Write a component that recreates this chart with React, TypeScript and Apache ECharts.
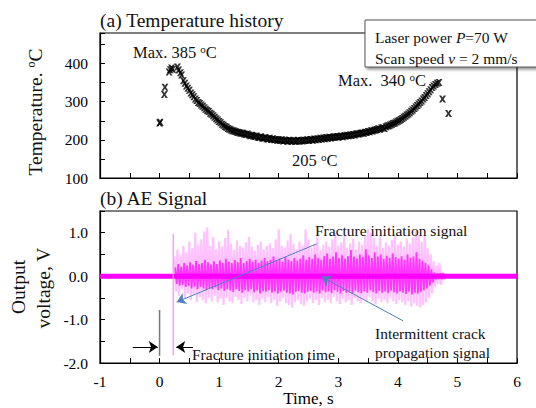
import React, { useEffect, useRef } from "react";
import * as echarts from "echarts";

const FONT = "'Liberation Serif', 'Times New Roman', serif";

// ---- axes ----
const timeMin = -1;
const timeMax = 6;
const tempMin = 100;
const tempMax = 480;
const voltMin = -2;
const voltMax = 1.5;

// ---- (a) temperature history ----
const tempEarlyTime = [0.0, 0.01, 0.08, 0.09, 0.16, 0.18, 0.2, 0.22, 0.3, 0.32, 0.35, 0.37];
const tempEarlyValue = [244, 246, 319, 338, 378, 384, 388, 385, 391, 383, 376, 370];
const tempStart = 0.4;
const tempStep = 0.025;
const tempValue = [
  355, 348, 341, 335, 330, 323, 318, 313,
  307, 303, 298, 295, 291, 288, 284, 280,
  277, 274, 270, 267, 263, 259, 255, 252,
  248, 245, 241, 238, 235, 233, 230, 228,
  226, 224, 223, 222, 220, 219, 218, 217,
  217, 215, 214, 215, 213, 211, 212, 210,
  209, 210, 207, 206, 208, 205, 204, 206,
  203, 202, 204, 201, 203, 200, 201, 199,
  200, 198, 200, 197, 199, 198, 196, 199,
  197, 196, 198, 196, 197, 199, 196, 198,
  197, 199, 198, 200, 198, 200, 201, 199,
  202, 200, 203, 201, 204, 202, 205, 203,
  206, 204, 207, 205, 206, 208, 207, 209,
  207, 209, 210, 208, 211, 210, 212, 211,
  213, 212, 214, 213, 215, 216, 215, 217,
  218, 217, 220, 219, 222, 221, 224, 223,
  225, 226, 227, 229, 228, 231, 232, 230,
  234, 236, 237, 239, 241, 243, 244, 247,
  249, 251, 253, 256, 259, 262, 265, 268,
  271, 275, 278, 282, 286, 290, 294, 298,
  302, 307, 311, 316, 321, 326, 331, 337,
  341,
];
const tempLateTime = [4.63, 4.66, 4.69, 4.75, 4.85];
const tempLateValue = [345, 348, 350, 307, 269];

// ---- (b) AE signal ----
const baselineTime = [-1, 6];
const baselineValue = [0, 0];
const spikeTime = [0.23, 0.23];
const spikeValue = [0.97, -1.82];
const aeStart = 0.25;
const aeStep = 0.05;
const lightHi = [
  0.45, 0.62, 0.5, 0.7, 0.55, 0.8, 0.65, 1.0, 0.72, 0.85,
  1.03, 1.12, 0.7, 0.9, 0.62, 0.8, 0.68, 0.88, 1.07, 0.75,
  0.6, 0.82, 0.7, 0.66, 0.78, 0.9, 0.68, 0.58, 0.72, 0.8,
  0.62, 0.7, 0.76, 0.65, 0.85, 1.08, 0.7, 0.66, 0.82, 0.97,
  0.74, 0.62, 0.8, 0.7, 1.08, 0.85, 0.66, 0.74, 0.9, 0.6,
  0.72, 0.8, 0.68, 0.85, 0.99, 0.7, 0.78, 0.93, 0.66, 0.75,
  0.86, 0.62, 0.8, 0.72, 0.95, 1.08, 1.0, 0.88, 0.7, 0.92,
  0.65, 0.78, 0.7, 0.84, 0.93, 0.72, 0.8, 0.68, 0.86, 0.75,
  0.9, 1.04, 0.95, 0.8, 0.93, 0.65, 0.5, 0.35, 0.25, 0.3,
  0.1,
];
const lightLo = [
  -0.35, -0.45, -0.3, -0.5, -0.4, -0.55, -0.42, -0.6, -0.48, -0.55,
  -0.62, -0.5, -0.58, -0.45, -0.6, -0.52, -0.66, -0.5, -0.58, -0.62,
  -0.48, -0.55, -0.64, -0.5, -0.58, -0.45, -0.6, -0.55, -0.66, -0.52,
  -0.6, -0.48, -0.62, -0.55, -0.68, -0.58, -0.5, -0.62, -0.66, -0.72,
  -0.6, -0.55, -0.64, -0.68, -0.58, -0.52, -0.62, -0.55, -0.66, -0.5,
  -0.6, -0.55, -0.62, -0.48, -0.58, -0.64, -0.52, -0.6, -0.55, -0.66,
  -0.5, -0.58, -0.62, -0.54, -0.6, -0.48, -0.58, -0.65, -0.52, -0.6,
  -0.55, -0.62, -0.5, -0.58, -0.64, -0.55, -0.6, -0.66, -0.58, -0.7,
  -0.62, -0.68, -0.72, -0.66, -0.6, -0.5, -0.4, -0.25, -0.18, -0.2,
  -0.08,
];
const darkHi = [
  0.2, 0.28, 0.22, 0.3, 0.25, 0.32, 0.26, 0.35, 0.28, 0.3,
  0.38, 0.32, 0.27, 0.34, 0.28, 0.36, 0.3, 0.4, 0.33, 0.3,
  0.37, 0.32, 0.42, 0.3, 0.35, 0.4, 0.33, 0.38, 0.3, 0.36,
  0.42, 0.34, 0.38, 0.45, 0.36, 0.4, 0.33, 0.44, 0.38, 0.35,
  0.42, 0.36, 0.4, 0.48, 0.38, 0.44, 0.4, 0.5, 0.42, 0.38,
  0.46, 0.52, 0.4, 0.45, 0.55, 0.42, 0.48, 0.4, 0.46, 0.6,
  0.45, 0.4, 0.5, 0.44, 0.62, 0.48, 0.42, 0.55, 0.45, 0.5,
  0.4, 0.47, 0.42, 0.52, 0.44, 0.4, 0.46, 0.38, 0.5, 0.42,
  0.45, 0.55, 0.4, 0.36, 0.3, 0.25, 0.15, 0.08, 0.07, 0.07,
  0.07,
];
const darkLo = [
  -0.18, -0.22, -0.2, -0.25, -0.22, -0.28, -0.24, -0.3, -0.25, -0.28,
  -0.32, -0.27, -0.3, -0.26, -0.32, -0.28, -0.34, -0.3, -0.33, -0.36,
  -0.3, -0.34, -0.38, -0.32, -0.35, -0.3, -0.37, -0.33, -0.4, -0.34,
  -0.36, -0.32, -0.38, -0.35, -0.4, -0.36, -0.33, -0.38, -0.4, -0.42,
  -0.36, -0.34, -0.38, -0.4, -0.36, -0.34, -0.38, -0.35, -0.4, -0.33,
  -0.37, -0.35, -0.39, -0.32, -0.36, -0.4, -0.34, -0.38, -0.35, -0.4,
  -0.33, -0.37, -0.39, -0.35, -0.38, -0.32, -0.37, -0.4, -0.34, -0.38,
  -0.35, -0.39, -0.33, -0.37, -0.4, -0.35, -0.38, -0.41, -0.36, -0.42,
  -0.38, -0.4, -0.36, -0.32, -0.28, -0.22, -0.14, -0.08, -0.07, -0.07,
  -0.07,
];
const initTimeLineTime = [0, 0];
const initTimeLineValue = [-0.78, -1.83];

const pairs = (xs: number[], ys: number[]) => xs.map((x, i) => [x, ys[i]]);

const SYMBOL =
  "path://M0,0 L3.2,0 L5,3 L6.8,0 L10,0 L6.6,5 L10,10 L6.8,10 L5,7 L3.2,10 L0,10 L3.4,5Z";

export default function App() {
  const ref = useRef<HTMLDivElement>(null);
  useEffect(() => {
    if (!ref.current) return;
    const chart = echarts.init(ref.current, undefined, { renderer: "svg" });

    const tempData: number[][] = [
      ...pairs(tempEarlyTime, tempEarlyValue),
      ...tempValue.map((v, i) => [tempStart + i * tempStep, v]),
      ...pairs(tempLateTime, tempLateValue),
    ];
    const lightData: number[][] = [];
    lightHi.forEach((hi, i) => {
      const t = aeStart + i * aeStep;
      lightData.push([t, hi], [t + aeStep / 2, lightLo[i]]);
    });
    const darkData: number[][] = [];
    darkHi.forEach((hi, i) => {
      const t = aeStart + i * aeStep + aeStep / 4;
      darkData.push([t, hi], [t + aeStep / 2, darkLo[i]]);
    });

    const isInt = (v: number) => Math.abs(v - Math.round(v)) < 1e-9;
    const axisCommon = {
      type: "value" as const,
      axisLine: { show: true, onZero: false, lineStyle: { color: "#000", width: 1.2 } },
      axisTick: { show: true, inside: true, length: 5, lineStyle: { color: "#000" } },
      splitLine: { show: false },
    };
    const blue = "#4f81bd";
    const supRich = { sup: { fontSize: 11, fontFamily: FONT, verticalAlign: "top", fill: "#111" } };

    chart.setOption({
      animation: false,
      backgroundColor: "#fff",
      textStyle: { fontFamily: FONT, color: "#000" },
      grid: [
        { left: 100, right: 19, top: 33, height: 145, show: true, borderColor: "#000", borderWidth: 1.2 },
        { left: 100, right: 19, top: 211, height: 160.5, show: true, borderColor: "#000", borderWidth: 1.2 },
      ],
      xAxis: [
        { ...axisCommon, gridIndex: 0, min: timeMin, max: timeMax, interval: 0.5, axisLabel: { show: false } },
        {
          ...axisCommon,
          gridIndex: 1,
          min: timeMin,
          max: timeMax,
          interval: 0.5,
          axisLabel: {
            fontSize: 15.5,
            color: "#000",
            margin: 10,
            fontFamily: FONT,
            formatter: (v: number) => (isInt(v) ? String(Math.round(v)) : ""),
          },
          name: "Time, s",
          nameLocation: "middle",
          nameGap: 15,
          nameTextStyle: { fontSize: 17, color: "#000", fontFamily: FONT },
        },
      ],
      yAxis: [
        {
          ...axisCommon,
          gridIndex: 0,
          min: tempMin,
          max: tempMax,
          interval: 50,
          axisLabel: {
            fontSize: 15.5,
            color: "#000",
            margin: 12,
            fontFamily: FONT,
            formatter: (v: number) => (v % 100 === 0 ? String(v) : ""),
          },
        },
        {
          ...axisCommon,
          gridIndex: 1,
          min: voltMin,
          max: voltMax,
          interval: 0.5,
          axisLabel: {
            fontSize: 15.5,
            color: "#000",
            margin: 12,
            fontFamily: FONT,
            formatter: (v: number) => (isInt(v) ? v.toFixed(1) : ""),
          },
        },
      ],
      series: [
        {
          type: "scatter",
          xAxisIndex: 0,
          yAxisIndex: 0,
          data: tempData,
          symbol: SYMBOL,
          symbolSize: 7,
          itemStyle: { color: "#000" },
          silent: true,
        },
        {
          type: "line",
          xAxisIndex: 1,
          yAxisIndex: 1,
          data: pairs(baselineTime, baselineValue),
          symbol: "none",
          lineStyle: { color: "#ff00ff", width: 5 },
          silent: true,
          z: 1,
          markLine: {
            silent: true,
            animation: false,
            symbol: ["none", "arrow"],
            symbolSize: 9,
            label: { show: false },
            data: [
              [
                { coord: [2.64, 0.745], lineStyle: { color: blue, width: 1, type: "solid" }, itemStyle: { color: blue } },
                { coord: [0.287, -0.595] },
              ],
              [
                { coord: [4.09, -1.03], lineStyle: { color: blue, width: 1, type: "solid" }, itemStyle: { color: blue } },
                { coord: [2.72, -0.015] },
              ],
              [
                { coord: [-0.45, -1.63], lineStyle: { color: "#000", width: 1, type: "solid" }, itemStyle: { color: "#000" }, symbolSize: 6 },
                { coord: [-0.03, -1.63] },
              ],
              [
                { coord: [0.56, -1.63], lineStyle: { color: "#000", width: 1, type: "solid" }, itemStyle: { color: "#000" }, symbolSize: 6 },
                { coord: [0.28, -1.63] },
              ],
            ],
          },
        },
        {
          type: "line",
          xAxisIndex: 1,
          yAxisIndex: 1,
          data: lightData,
          symbol: "none",
          lineStyle: { color: "rgba(255,0,255,0.24)", width: 2.2 },
          silent: true,
          z: 2,
        },
        {
          type: "line",
          xAxisIndex: 1,
          yAxisIndex: 1,
          data: darkData,
          symbol: "none",
          lineStyle: { color: "rgba(255,0,255,0.72)", width: 1.8 },
          silent: true,
          z: 3,
        },
        {
          type: "line",
          xAxisIndex: 1,
          yAxisIndex: 1,
          data: pairs(spikeTime, spikeValue),
          symbol: "none",
          lineStyle: { color: "#ff9cff", width: 1.5 },
          silent: true,
          z: 4,
        },
        {
          type: "line",
          xAxisIndex: 1,
          yAxisIndex: 1,
          data: pairs(initTimeLineTime, initTimeLineValue),
          symbol: "none",
          lineStyle: { color: "#777", width: 1.5 },
          silent: true,
          z: 4,
        },
      ],
      graphic: [
        {
          type: "text",
          x: 100,
          y: 20,
          style: { text: "(a) Temperature history", fontSize: 19.5, fontFamily: FONT, fill: "#111", align: "left", verticalAlign: "middle" },
        },
        {
          type: "text",
          x: 100,
          y: 198,
          style: { text: "(b) AE Signal", fontSize: 19.5, fontFamily: FONT, fill: "#111", align: "left", verticalAlign: "middle" },
        },
        {
          type: "text",
          x: 35,
          y: 112,
          rotation: Math.PI / 2,
          style: {
            text: "Temperature. {sup|o}C",
            rich: { sup: { fontSize: 12, fontFamily: FONT, verticalAlign: "top", fill: "#111" } },
            fontSize: 19.5,
            fontFamily: FONT,
            fill: "#111",
            align: "center",
            verticalAlign: "middle",
          },
        },
        {
          type: "text",
          x: 18,
          y: 287,
          rotation: Math.PI / 2,
          style: { text: "Output", fontSize: 19.5, fontFamily: FONT, fill: "#111", align: "center", verticalAlign: "middle" },
        },
        {
          type: "text",
          x: 43,
          y: 288,
          rotation: Math.PI / 2,
          style: { text: "voltage, V", fontSize: 19.5, fontFamily: FONT, fill: "#111", align: "center", verticalAlign: "middle" },
        },
        {
          type: "text",
          x: 133,
          y: 52,
          style: { text: "Max. 385 {sup|o}C", rich: supRich, fontSize: 16.5, fontFamily: FONT, fill: "#111", align: "left", verticalAlign: "middle" },
        },
        {
          type: "text",
          x: 338,
          y: 80,
          style: { text: "Max.  340 {sup|o}C", rich: supRich, fontSize: 16.5, fontFamily: FONT, fill: "#111", align: "left", verticalAlign: "middle" },
        },
        {
          type: "text",
          x: 292,
          y: 160,
          style: { text: "205 {sup|o}C", rich: supRich, fontSize: 16.5, fontFamily: FONT, fill: "#111", align: "left", verticalAlign: "middle" },
        },
        {
          type: "rect",
          z: 100,
          shape: { x: 365, y: 20, width: 200, height: 47 },
          style: {
            fill: "#fff",
            stroke: "#555",
            lineWidth: 1,
            shadowBlur: 3,
            shadowOffsetX: 2,
            shadowOffsetY: 2,
            shadowColor: "rgba(0,0,0,0.45)",
          },
        },
        {
          type: "text",
          z: 101,
          x: 375,
          y: 37,
          style: {
            text: "Laser power {i|P}=70 W",
            rich: { i: { fontStyle: "italic", fontSize: 15.5, fontFamily: FONT, fill: "#111" } },
            fontSize: 15.5,
            fontFamily: FONT,
            fill: "#111",
            align: "left",
            verticalAlign: "middle",
          },
        },
        {
          type: "text",
          z: 101,
          x: 375,
          y: 58,
          style: {
            text: "Scan speed {i|v} = 2 mm/s",
            rich: { i: { fontStyle: "italic", fontSize: 15.5, fontFamily: FONT, fill: "#111" } },
            fontSize: 15.5,
            fontFamily: FONT,
            fill: "#111",
            align: "left",
            verticalAlign: "middle",
          },
        },
        {
          type: "text",
          z: 101,
          x: 315,
          y: 230,
          style: { text: "Fracture initiation signal", fontSize: 15.5, fontFamily: FONT, fill: "#111", align: "left", verticalAlign: "middle" },
        },
        {
          type: "text",
          z: 101,
          x: 375,
          y: 333,
          style: { text: "Intermittent crack", fontSize: 15.5, fontFamily: FONT, fill: "#111", align: "left", verticalAlign: "middle" },
        },
        {
          type: "text",
          z: 101,
          x: 375,
          y: 352,
          style: { text: "propagation signal", fontSize: 15.5, fontFamily: FONT, fill: "#111", align: "left", verticalAlign: "middle" },
        },
        {
          type: "text",
          z: 101,
          x: 192,
          y: 354,
          style: { text: "Fracture initiation time", fontSize: 15.5, fontFamily: FONT, fill: "#111", align: "left", verticalAlign: "middle" },
        },
      ],
    });
    return () => chart.dispose();
  }, []);
  return (
    <div
      ref={ref}
      style={{ position: "fixed", left: 0, top: 0, width: 536, height: 408, background: "#fff" }}
    />
  );
}
